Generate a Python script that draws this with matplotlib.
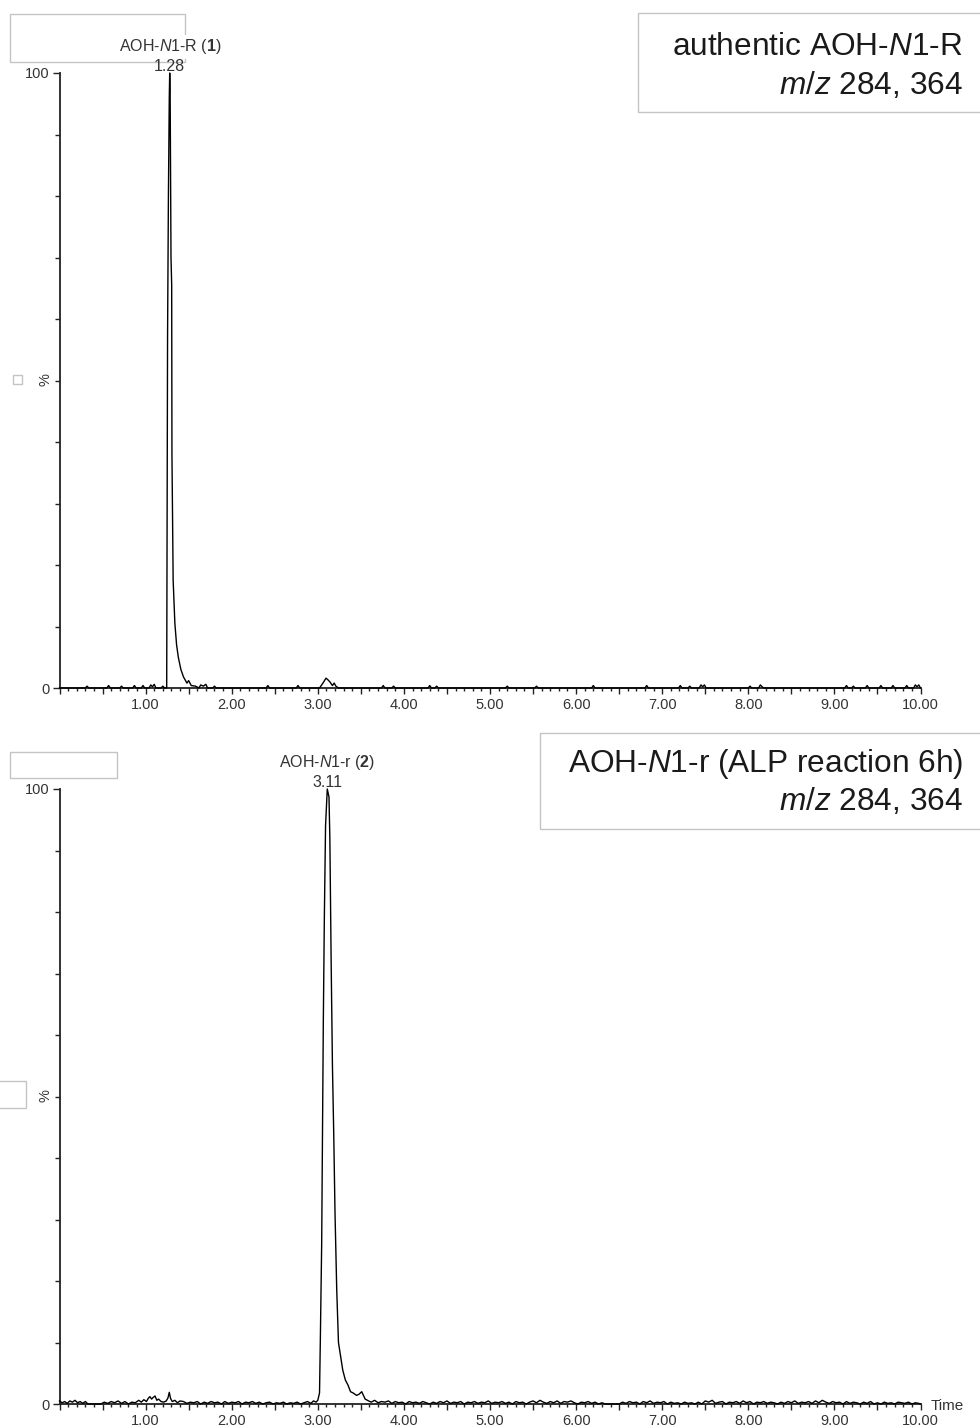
import matplotlib
matplotlib.use("Agg")
import matplotlib.pyplot as plt
from matplotlib.patches import Rectangle
from matplotlib.ticker import MultipleLocator, FixedLocator, FuncFormatter

plt.rcParams["font.family"] = ["Liberation Sans", "DejaVu Sans"]
plt.rcParams["mathtext.fontset"] = "custom"
plt.rcParams["mathtext.rm"] = "Liberation Sans"
plt.rcParams["mathtext.it"] = "Liberation Sans:italic"
plt.rcParams["mathtext.bf"] = "Liberation Sans:bold"

# --- trace 1: authentic AOH-N1-R, retention time (min) vs relative intensity (%)
rt_top = [
    0.00, 0.30, 0.32, 0.34, 0.55, 0.57, 0.59, 0.70, 0.72, 0.74,
    0.85, 0.87, 0.89, 0.95, 0.97, 0.99, 1.04, 1.06, 1.08, 1.10,
    1.12, 1.18, 1.20, 1.22, 1.245, 1.25, 1.255, 1.265, 1.275, 1.28,
    1.285, 1.295, 1.303, 1.306, 1.32, 1.34, 1.36, 1.38, 1.41, 1.44,
    1.48, 1.50, 1.53, 1.58, 1.62, 1.64, 1.67, 1.70, 1.72, 1.78,
    1.80, 1.82, 2.40, 2.42, 2.44, 2.75, 2.77, 2.79, 3.02, 3.06,
    3.095, 3.12, 3.14, 3.17, 3.19, 3.21, 3.24, 3.74, 3.76, 3.78,
    3.86, 3.88, 3.90, 4.28, 4.30, 4.32, 4.36, 4.38, 4.40, 5.18,
    5.20, 5.22, 5.52, 5.54, 5.56, 6.18, 6.20, 6.22, 6.80, 6.82,
    6.84, 7.19, 7.21, 7.23, 7.30, 7.32, 7.34, 7.43, 7.45, 7.47,
    7.49, 7.51, 8.00, 8.02, 8.04, 8.12, 8.14, 8.16, 8.18, 9.12,
    9.14, 9.16, 9.20, 9.22, 9.24, 9.36, 9.38, 9.40, 9.52, 9.54,
    9.56, 9.66, 9.68, 9.70, 9.82, 9.84, 9.86, 9.92, 9.94, 9.96,
    9.98, 10.00,
]
pct_top = [
    0.0, 0.0, 0.3, 0.0, 0.0, 0.4, 0.0, 0.0, 0.3, 0.0,
    0.0, 0.4, 0.0, 0.0, 0.4, 0.0, 0.0, 0.5, 0.2, 0.6,
    0.0, 0.0, 0.3, 0.0, 0.0, 30.0, 57.0, 80.0, 96.0, 100.0,
    97.0, 70.0, 65.5, 38.0, 17.5, 10.5, 7.0, 5.0, 3.0, 1.8,
    0.8, 1.2, 0.4, 0.3, 0.0, 0.5, 0.3, 0.6, 0.0, 0.0,
    0.3, 0.0, 0.0, 0.4, 0.0, 0.0, 0.4, 0.0, 0.0, 0.8,
    1.6, 1.3, 1.0, 0.4, 0.8, 0.3, 0.0, 0.0, 0.4, 0.0,
    0.0, 0.3, 0.0, 0.0, 0.4, 0.0, 0.0, 0.3, 0.0, 0.0,
    0.3, 0.0, 0.0, 0.3, 0.0, 0.0, 0.4, 0.0, 0.0, 0.4,
    0.0, 0.0, 0.4, 0.0, 0.0, 0.3, 0.0, 0.0, 0.5, 0.2,
    0.5, 0.0, 0.0, 0.3, 0.0, 0.0, 0.5, 0.2, 0.0, 0.0,
    0.4, 0.0, 0.0, 0.3, 0.0, 0.0, 0.4, 0.0, 0.0, 0.4,
    0.0, 0.0, 0.4, 0.0, 0.0, 0.4, 0.0, 0.0, 0.5, 0.2,
    0.5, 0.0,
]

# --- trace 2: AOH-N1-r after ALP reaction (6 h)
rt_bot = [
    0.00, 0.03, 0.06, 0.09, 0.12, 0.15, 0.18, 0.21, 0.24, 0.27,
    0.30, 0.33, 0.36, 0.40, 0.44, 0.48, 0.52, 0.56, 0.60, 0.64,
    0.68, 0.72, 0.76, 0.80, 0.84, 0.88, 0.92, 0.95, 0.98, 1.01,
    1.03, 1.05, 1.07, 1.09, 1.11, 1.13, 1.15, 1.18, 1.21, 1.24,
    1.26, 1.275, 1.29, 1.31, 1.34, 1.37, 1.40, 1.44, 1.48, 1.52,
    1.56, 1.60, 1.64, 1.68, 1.72, 1.76, 1.80, 1.84, 1.88, 1.92,
    1.96, 2.00, 2.04, 2.08, 2.12, 2.16, 2.20, 2.24, 2.28, 2.32,
    2.36, 2.40, 2.44, 2.48, 2.52, 2.56, 2.60, 2.64, 2.68, 2.72,
    2.76, 2.80, 2.84, 2.88, 2.92, 2.95, 2.98, 3.00, 3.02, 3.03,
    3.045, 3.057, 3.064, 3.076, 3.09, 3.11, 3.13, 3.14, 3.155, 3.17,
    3.185, 3.20, 3.22, 3.24, 3.265, 3.29, 3.32, 3.35, 3.38, 3.41,
    3.45, 3.48, 3.51, 3.55, 3.59, 3.62, 3.66, 3.70, 3.74, 3.78,
    3.82, 3.86, 3.90, 3.94, 3.98, 4.02, 4.06, 4.10, 4.14, 4.18,
    4.22, 4.26, 4.30, 4.34, 4.38, 4.42, 4.46, 4.50, 4.54, 4.58,
    4.62, 4.66, 4.70, 4.74, 4.78, 4.82, 4.86, 4.90, 4.94, 4.98,
    5.02, 5.06, 5.10, 5.14, 5.18, 5.22, 5.26, 5.30, 5.34, 5.38,
    5.42, 5.46, 5.50, 5.54, 5.58, 5.62, 5.66, 5.70, 5.74, 5.78,
    5.82, 5.86, 5.90, 5.94, 5.98, 6.02, 6.06, 6.10, 6.14, 6.18,
    6.22, 6.26, 6.30, 6.34, 6.38, 6.42, 6.46, 6.50, 6.54, 6.58,
    6.62, 6.66, 6.70, 6.74, 6.78, 6.82, 6.86, 6.90, 6.94, 6.98,
    7.02, 7.06, 7.10, 7.14, 7.18, 7.22, 7.26, 7.30, 7.34, 7.38,
    7.42, 7.46, 7.50, 7.54, 7.58, 7.62, 7.66, 7.70, 7.74, 7.78,
    7.82, 7.86, 7.90, 7.94, 7.98, 8.02, 8.06, 8.10, 8.14, 8.18,
    8.22, 8.26, 8.30, 8.34, 8.38, 8.42, 8.46, 8.50, 8.54, 8.58,
    8.62, 8.66, 8.70, 8.74, 8.78, 8.82, 8.86, 8.90, 8.94, 8.98,
    9.02, 9.06, 9.10, 9.14, 9.18, 9.22, 9.26, 9.30, 9.34, 9.38,
    9.42, 9.46, 9.50, 9.54, 9.58, 9.62, 9.66, 9.70, 9.74, 9.78,
    9.82, 9.86, 9.90, 9.94, 9.98, 10.00,
]
pct_bot = [
    0.5, 0.2, 0.4, 0.1, 0.5, 0.3, 0.6, 0.2, 0.4, 0.1,
    0.4, 0.0, 0.0, 0.0, 0.0, 0.0, 0.3, 0.1, 0.4, 0.2,
    0.5, 0.1, 0.4, 0.0, 0.3, 0.2, 0.6, 0.3, 0.7, 0.4,
    0.9, 1.2, 0.8, 1.1, 1.3, 0.6, 0.8, 0.4, 0.3, 0.5,
    1.0, 1.9, 0.9, 0.4, 0.6, 0.2, 0.5, 0.4, 0.1, 0.3,
    0.2, 0.4, 0.0, 0.3, 0.1, 0.4, 0.2, 0.3, 0.0, 0.4,
    0.1, 0.3, 0.2, 0.4, 0.0, 0.3, 0.2, 0.4, 0.1, 0.3,
    0.0, 0.2, 0.3, 0.0, 0.2, 0.1, 0.3, 0.0, 0.2, 0.1,
    0.3, 0.0, 0.2, 0.4, 0.1, 0.5, 0.3, 0.6, 1.8, 10.9,
    26.0, 49.0, 62.0, 79.0, 94.0, 100.0, 98.7, 92.0, 72.0, 55.0,
    44.0, 31.0, 18.5, 10.0, 7.7, 5.5, 3.9, 3.1, 2.0, 1.8,
    1.4, 1.6, 2.0, 0.8, 0.5, 0.3, 0.6, 0.2, 0.4, 0.3,
    0.5, 0.1, 0.4, 0.2, 0.3, 0.0, 0.4, 0.2, 0.3, 0.1,
    0.4, 0.2, 0.0, 0.3, 0.1, 0.4, 0.2, 0.5, 0.1, 0.3,
    0.2, 0.4, 0.0, 0.3, 0.2, 0.4, 0.1, 0.3, 0.2, 0.5,
    0.1, 0.3, 0.2, 0.4, 0.1, 0.3, 0.0, 0.4, 0.2, 0.3,
    0.0, 0.3, 0.5, 0.2, 0.6, 0.3, 0.1, 0.4, 0.2, 0.5,
    0.1, 0.4, 0.3, 0.5, 0.2, 0.0, 0.3, 0.2, 0.4, 0.1,
    0.3, 0.0, 0.2, 0.0, 0.0, 0.0, 0.0, 0.0, 0.3, 0.1,
    0.4, 0.2, 0.3, 0.0, 0.4, 0.2, 0.5, 0.1, 0.3, 0.2,
    0.4, 0.0, 0.3, 0.1, 0.2, 0.0, 0.3, 0.1, 0.2, 0.0,
    0.3, 0.0, 0.5, 0.3, 0.6, 0.1, 0.3, 0.4, 0.0, 0.3,
    0.2, 0.4, 0.1, 0.5, 0.2, 0.4, 0.0, 0.3, 0.2, 0.4,
    0.1, 0.3, 0.2, 0.0, 0.3, 0.1, 0.4, 0.2, 0.5, 0.1,
    0.3, 0.2, 0.4, 0.1, 0.5, 0.2, 0.6, 0.3, 0.1, 0.4,
    0.2, 0.3, 0.0, 0.4, 0.1, 0.3, 0.2, 0.0, 0.3, 0.1,
    0.4, 0.0, 0.2, 0.0, 0.3, 0.1, 0.2, 0.0, 0.3, 0.2,
    0.1, 0.3, 0.0, 0.2, 0.1, 0.0,
]

peak_rt = [1.28, 3.11]
peak_names = [r"AOH-$\mathit{N}$1-R ($\mathbf{1}$)", r"AOH-$\mathit{N}$1-r ($\mathbf{2}$)"]
panel_titles = [
    ["authentic AOH-$\\mathit{N}$1-R", r"$\mathit{m/z}$ 284, 364"],
    ["AOH-$\\mathit{N}$1-r (ALP reaction 6h)", r"$\mathit{m/z}$ 284, 364"],
]

W, H = 980, 1428
fig = plt.figure(figsize=(W / 100, H / 100), dpi=100)

def fx(x):
    return x / W

def fy(y):
    return 1 - y / H

def box(x0, y0, x1, y1):
    r = Rectangle((fx(x0), fy(y1)), (x1 - x0) / W, (y1 - y0) / H,
                  transform=fig.transFigure, fill=False, ec="#c4c4c4",
                  lw=1.0, zorder=-1)
    fig.add_artist(r)

txt_col = "#333333"
ax_col = "#222222"

def style_axes(ax):
    ax.set_xlim(0, 10)
    ax.set_ylim(0, 100)
    ax.patch.set_alpha(0)
    for s in ["top", "right"]:
        ax.spines[s].set_visible(False)
    for s in ["left", "bottom"]:
        ax.spines[s].set_color(ax_col)
        ax.spines[s].set_linewidth(1.3)
    ax.xaxis.set_major_locator(MultipleLocator(0.5))
    ax.xaxis.set_minor_locator(MultipleLocator(0.1))
    ax.xaxis.set_major_formatter(FuncFormatter(
        lambda v, p: f"{v:.2f}" if v > 0.5 and abs(v - round(v)) < 1e-6 else ""))
    ax.yaxis.set_major_locator(FixedLocator([0, 100]))
    ax.yaxis.set_minor_locator(MultipleLocator(10))
    ax.tick_params(axis="x", which="major", length=4.3, width=1.0, pad=3,
                   labelsize=10.5, labelcolor=txt_col, color=ax_col)
    ax.tick_params(axis="x", which="minor", length=2.2, width=1.0, color=ax_col)
    ax.tick_params(axis="y", which="major", length=5, width=1.0, pad=2,
                   labelsize=10.5, labelcolor=txt_col, color=ax_col)
    ax.tick_params(axis="y", which="minor", length=3.5, width=1.0, color=ax_col)

ax_top = fig.add_axes([fx(59.5), fy(688), 861 / W, 615 / H])
ax_bot = fig.add_axes([fx(59.5), fy(1404), 861 / W, 615 / H])

traces = [(rt_top, pct_top), (rt_bot, pct_bot)]
for i, ax in enumerate([ax_top, ax_bot]):
    style_axes(ax)
    rt, pct = traces[i]
    ax.plot(rt, pct, color="black", lw=1.0, clip_on=False, zorder=3)
    # peak annotations: retention time right above the apex, name above it
    ax.annotate(f"{peak_rt[i]:.2f}", xy=(peak_rt[i], 100), xytext=(0, 1.5),
                textcoords="offset points", ha="center", va="baseline",
                fontsize=11.5, color=txt_col, annotation_clip=False)
    ax.annotate(peak_names[i], xy=(peak_rt[i], 100), xytext=(0, 15.5),
                textcoords="offset points", ha="center", va="baseline",
                fontsize=11.5, color=txt_col, annotation_clip=False,
                bbox=dict(fc="white", ec="none", pad=1.5))

# percent axis labels
fig.text(fx(45), fy(380), "%", rotation=90, ha="center", va="center",
         fontsize=10.5, color=txt_col)
fig.text(fx(45), fy(1096), "%", rotation=90, ha="center", va="center",
         fontsize=10.5, color=txt_col)
fig.text(fx(931), fy(1406), "Time", ha="left", va="center",
         fontsize=11, color=txt_col)

# empty placeholder frames left over from the export
box(10, 14, 185, 62)
box(13, 375, 22, 384)
box(10, 752, 117, 778)
box(-2, 1081, 26, 1108)

# sample captions
cap_fs = 22.8
cap_col = "#1a1a1a"
box(638, 13, 990, 112)
fig.text(fx(963), fy(55), panel_titles[0][0], ha="right", va="baseline",
         fontsize=cap_fs, color=cap_col)
fig.text(fx(963), fy(94), panel_titles[0][1], ha="right", va="baseline",
         fontsize=cap_fs, color=cap_col)
box(540, 733, 990, 829)
fig.text(fx(963), fy(772), panel_titles[1][0], ha="right", va="baseline",
         fontsize=cap_fs, color=cap_col)
fig.text(fx(963), fy(810), panel_titles[1][1], ha="right", va="baseline",
         fontsize=cap_fs, color=cap_col)

fig.savefig("out.png", dpi=100)
